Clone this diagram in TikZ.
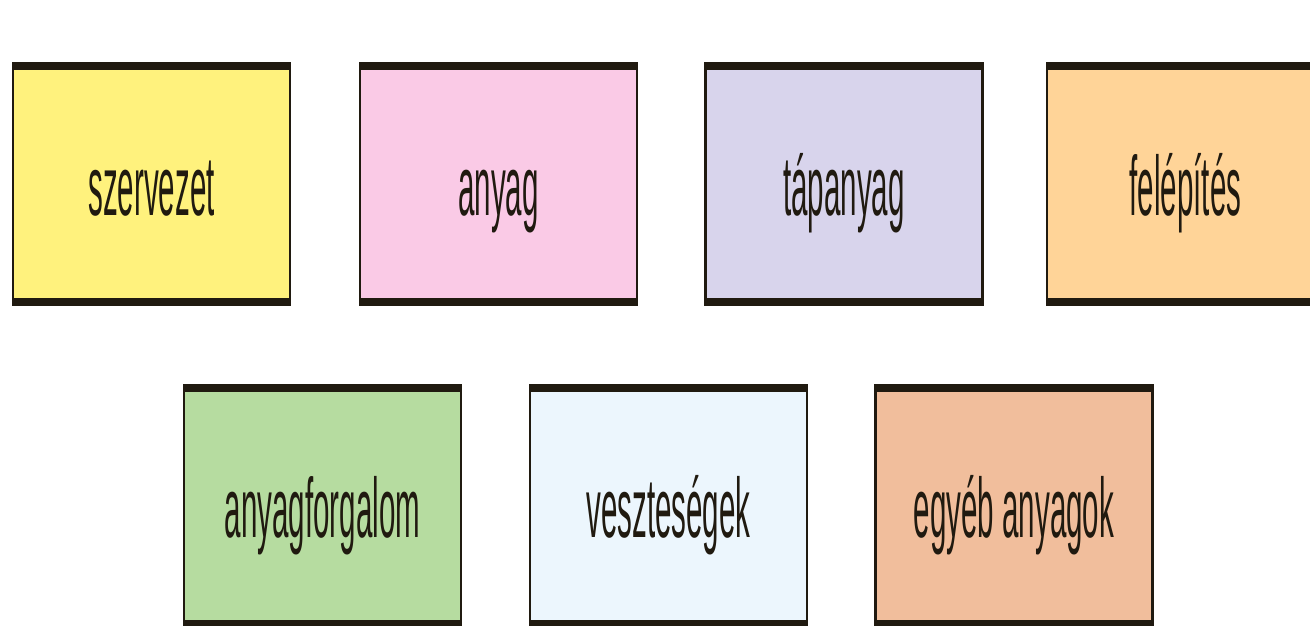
\documentclass[tikz,border=0pt]{standalone}
\usepackage{fontspec}
\setmainfont{Liberation Sans}
\usepackage{graphicx}
\usepackage{xcolor}
\usepackage{tikz}
\usetikzlibrary{positioning, calc}

\definecolor{boxline}{RGB}{32,26,16}
\definecolor{cyellow}{RGB}{255,242,125}
\definecolor{cpink}{RGB}{250,202,230}
\definecolor{clilac}{RGB}{216,212,236}
\definecolor{cpeach}{RGB}{255,212,152}
\definecolor{cgreen}{RGB}{182,220,160}
\definecolor{cblue}{RGB}{236,246,253}
\definecolor{csalmon}{RGB}{241,190,156}

\tikzset{
  conceptbox/.style={draw=boxline, line width=0.8pt, minimum width=2.77cm,
    minimum height=2.42cm, inner sep=0pt, text=boxline},
}
% label with its baseline a fixed distance below the box centre
\newcommand{\narrow}[1]{\raisebox{-0.31cm}[0pt][0pt]{\scalebox{0.35}[1]{\fontsize{24}{26}\selectfont #1}}}

\begin{document}
\begin{tikzpicture}
  % Frame
  \useasboundingbox (0,0) rectangle (13.1,6.25);
  \clip (0,0) rectangle (13.1,6.25);
  \fill[white] (0,0) rectangle (13.1,6.25);

  % Top row
  \node[conceptbox, fill=cyellow] (szerv) at (1.515,4.41) {\narrow{szervezet}};
  \node[conceptbox, fill=cpink] (anyag) at (4.985,4.41) {\narrow{anyag}};
  \node[conceptbox, fill=clilac] (tap) at (8.44,4.41) {\narrow{tápanyag}};
  \node[conceptbox, fill=cpeach] (felep) at (11.855,4.41) {\narrow{felépítés}};

  % Bottom row
  \node[conceptbox, fill=cgreen] (forg) at (3.225,1.19) {\narrow{anyagforgalom}};
  \node[conceptbox, fill=cblue] (veszt) at (6.685,1.19) {\narrow{veszteségek}};
  \node[conceptbox, fill=csalmon] (egyeb) at (10.14,1.19) {\narrow{egyéb anyagok}};

  % Thick bars at top and bottom of each box
  \foreach \n in {szerv, anyag, tap, felep, forg, veszt, egyeb} {
    \fill[boxline] (\n.north west) rectangle ([yshift=-0.085cm]\n.north east);
    \fill[boxline] (\n.south west) rectangle ([yshift=0.085cm]\n.south east);
  }
\end{tikzpicture}
\end{document}
